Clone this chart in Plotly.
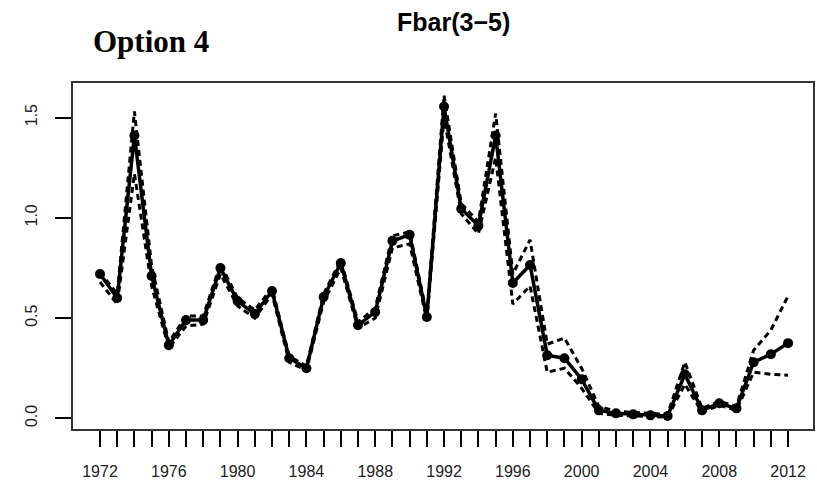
import plotly.graph_objects as go

years = list(range(1972, 2013))
fbar = [0.72, 0.60, 1.41, 0.71, 0.365, 0.49, 0.49, 0.75, 0.585, 0.52, 0.635, 0.30,
        0.25, 0.605, 0.775, 0.465, 0.53, 0.885, 0.915, 0.505, 1.555, 1.045, 0.96, 1.41,
        0.675, 0.765, 0.315, 0.30, 0.195, 0.04, 0.025, 0.02, 0.015, 0.012, 0.22, 0.04,
        0.075, 0.05, 0.28, 0.32, 0.375]
upper = [0.73, 0.62, 1.53, 0.76, 0.38, 0.51, 0.51, 0.77, 0.60, 0.54, 0.65, 0.31,
         0.26, 0.62, 0.79, 0.48, 0.55, 0.91, 0.93, 0.52, 1.61, 1.07, 0.98, 1.52,
         0.72, 0.89, 0.37, 0.40, 0.25, 0.06, 0.035, 0.03, 0.025, 0.02, 0.28, 0.05,
         0.085, 0.06, 0.34, 0.44, 0.61]
lower = [0.68, 0.57, 1.22, 0.66, 0.35, 0.46, 0.47, 0.72, 0.56, 0.50, 0.62, 0.28,
         0.24, 0.58, 0.75, 0.45, 0.50, 0.85, 0.87, 0.49, 1.50, 1.02, 0.92, 1.30,
         0.57, 0.66, 0.23, 0.25, 0.15, 0.025, 0.015, 0.012, 0.008, 0.006, 0.17, 0.03,
         0.065, 0.04, 0.23, 0.22, 0.215]
ytick_vals = [0.0, 0.5, 1.0, 1.5]
ytick_text = ["0.0", "0.5", "1.0", "1.5"]
xtick_text = [str(y) if (y - 1972) % 4 == 0 else "" for y in years]

fig = go.Figure()
for band in (upper, lower):
    fig.add_trace(go.Scatter(x=years, y=band, mode="lines",
                             line=dict(color="black", width=3, dash="6px,4px"),
                             showlegend=False, hoverinfo="skip"))
fig.add_trace(go.Scatter(x=years, y=fbar, mode="lines+markers",
                         line=dict(color="black", width=3.5),
                         marker=dict(color="black", size=10),
                         showlegend=False))

axis_common = dict(showline=True, linecolor="#333333", linewidth=1.5, mirror=True,
                   showgrid=False, zeroline=False, ticks="outside", ticklen=16,
                   tickcolor="black", tickwidth=1.5,
                   tickfont=dict(family="Liberation Sans, Arial", size=16, color="#222222"))

fig.update_layout(
    width=817, height=488,
    margin=dict(l=73, r=2, t=83, b=59),
    paper_bgcolor="white", plot_bgcolor="white",
    xaxis=dict(range=[1970.43, 2013.45], tickmode="array", tickvals=years,
               ticktext=xtick_text, ticklabelstandoff=11, **axis_common),
    yaxis=dict(range=[-0.053, 1.672], tickmode="array", tickvals=ytick_vals,
               ticktext=ytick_text, tickangle=-90, ticklabelstandoff=12, **axis_common),
    annotations=[
        dict(text="<b>Fbar(3\u22125)</b>", x=(455 - 73) / 742, y=(429 - 22) / 346,
             xref="paper", yref="paper", showarrow=False, xanchor="center", yanchor="middle",
             font=dict(family="Liberation Sans, Arial", size=25, color="black")),
        dict(text="<b>Option 4</b>", x=(91 - 73) / 742, y=(429 - 42) / 346,
             xref="paper", yref="paper", showarrow=False, xanchor="left", yanchor="middle",
             font=dict(family="Liberation Serif, Times New Roman", size=31, color="black")),
    ],
)

fig.write_html("out.html")
